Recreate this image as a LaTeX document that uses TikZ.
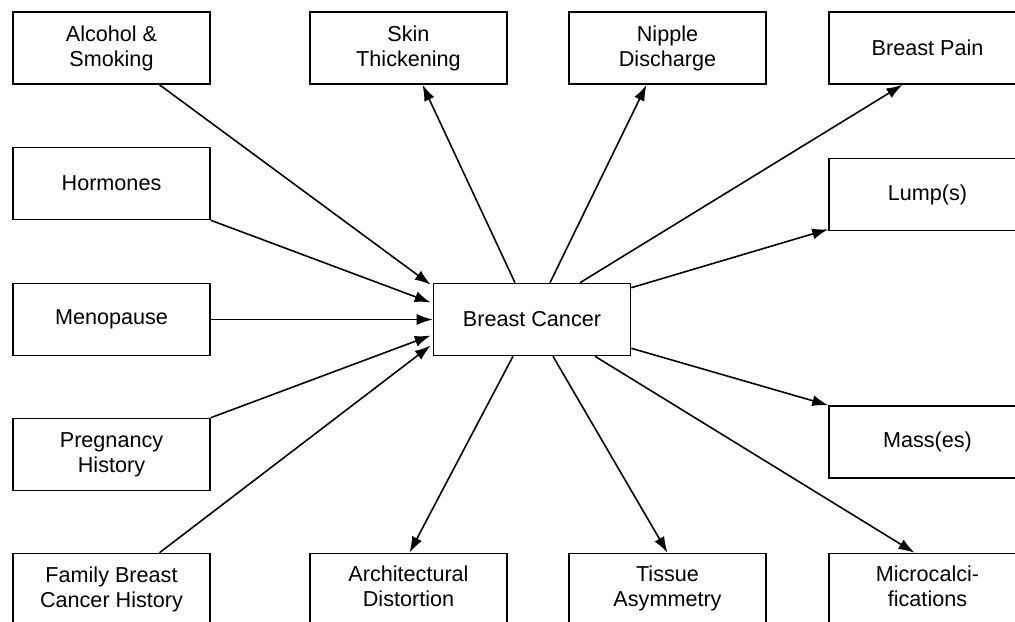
\documentclass[tikz,border=0pt]{standalone}
\usepackage{fontspec}
\setmainfont{Liberation Sans}
\usepackage{tikz}
\usetikzlibrary{arrows.meta,calc}

\begin{document}
\begin{tikzpicture}[x=0.02cm,y=-0.02cm,
  box/.style={draw,line width=0.9pt,minimum width=3.94cm,minimum height=1.44cm,
    align=center,font=\fontsize{12.3}{14.2}\selectfont},
  link/.style={line width=0.9pt,-{Latex[length=3.2mm,width=2.2mm]}}]
\clip (0,0) rectangle (1015,622);
\node[box] (alc) at (111.5,48) {Alcohol \&\\Smoking};
\node[box] (skin) at (408.5,48) {Skin\\Thickening};
\node[box] (nip) at (667.5,48) {Nipple\\Discharge};
\node[box] (pain) at (927.5,48) {Breast Pain};
\node[box] (horm) at (111.5,183.5) {Hormones};
\node[box] (meno) at (111.5,319.5) {Menopause};
\node[box] (preg) at (111.5,454.5) {Pregnancy\\History};
\node[box] (fam) at (111.5,589.5) {Family Breast\\Cancer History};
\node[box] (bc) at (532,319.5) {Breast Cancer};
\node[box] (lump) at (927.5,194.5) {Lump(s)};
\node[box] (mass) at (927.5,442) {Mass(es)};
\node[box] (arch) at (408.5,589.5) {Architectural\\Distortion\strut};
\node[box] (tis) at (667.5,589.5) {Tissue\\Asymmetry\strut};
\node[box] (mic) at (927.5,589.5) {Microcalci-\\fications\strut};
% risk factors
\draw[link] ($(alc.south)+(48,0)$) -- ($(bc.north west)+(-2,2)$);
\draw[link] (horm.south east) -- ($(bc.west)+(-2,-17)$);
\draw[link] (meno.east) -- (bc.west);
\draw[link] (preg.north east) -- ($(bc.west)+(-2,16)$);
\draw[link] ($(fam.north)+(48,0)$) -- ($(bc.west)+(-2,26)$);
% findings
\draw[link] ($(bc.north)+(-17,0)$) -- ($(skin.south)+(14,0)$);
\draw[link] ($(bc.north)+(18,0)$) -- ($(nip.south)+(-21,0)$);
\draw[link] ($(bc.north)+(48,0)$) -- ($(pain.south)+(-25,0)$);
\draw[link] ($(bc.north east)+(0,5)$) -- ($(lump.south west)+(0,-2)$);
\draw[link] ($(bc.south east)+(0,-8)$) -- (mass.north west);
\draw[link] ($(bc.south)+(-19,0)$) -- ($(arch.north)+(1,0)$);
\draw[link] ($(bc.south)+(21,0)$) -- ($(tis.north)+(0,0)$);
\draw[link] ($(bc.south)+(63,0)$) -- ($(mic.north)+(-13,0)$);
\end{tikzpicture}
\end{document}
